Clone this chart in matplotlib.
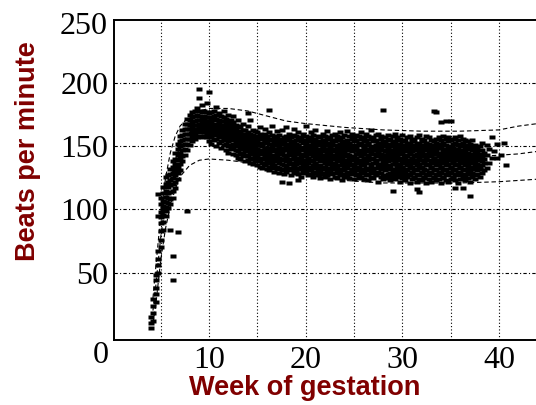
import matplotlib
matplotlib.use("Agg")
import matplotlib.pyplot as plt

# fetal heart rate readings (beats per minute), grouped by week of gestation
fhr = {
    4.0: [6, 10, 15],
    4.25: [12, 18, 24, 29],
    4.5: [27, 33, 38, 44, 48],
    4.75: [50, 56, 61, 67, 95, 112],
    5.0: [70, 76, 83, 89, 94, 98, 104, 109],
    5.25: [84, 90, 96, 100, 103, 107, 113, 118],
    5.5: [95, 99, 102, 106, 110, 115, 120, 126],
    5.75: [101, 105, 109, 113, 118, 122, 127],
    6.0: [104, 108, 114, 119, 123, 128, 132, 84],
    6.25: [109, 115, 120, 125, 129, 134, 138, 63, 44],
    6.5: [117, 122, 127, 131, 136, 140, 145],
    6.75: [124, 129, 134, 139, 143, 148, 152, 82],
    7.0: [131, 136, 141, 145, 150, 154, 158],
    7.25: [138, 142, 147, 151, 155, 159, 163],
    7.5: [143, 148, 152, 156, 160, 164, 168],
    7.75: [147, 152, 156, 160, 164, 168, 172, 99],
    8.0: [151, 156, 160, 164, 167, 171, 175],
    8.25: [154, 158, 162, 165, 169, 173, 177],
    8.5: [156, 160, 163, 167, 170, 174, 178],
    8.75: [157, 161, 164, 167, 171, 175, 180],
    9.0: [158, 162, 165, 168, 171, 174, 178, 188, 195],
    9.25: [157, 161, 164, 167, 170, 173, 177, 183],
    9.5: [158, 161, 165, 168, 171, 174, 178],
    9.75: [157, 160, 164, 167, 170, 173, 177, 184],
    10.0: [154, 158, 161, 165, 168, 170, 173, 176, 193],
    10.25: [152, 157, 160, 163, 166, 169, 172, 177],
    10.5: [155, 159, 162, 164, 167, 171, 174, 178],
    10.75: [150, 156, 160, 163, 166, 168, 172, 175, 181],
    11.0: [153, 157, 159, 162, 165, 169, 171, 176],
    11.25: [149, 154, 158, 161, 164, 167, 170, 174],
    11.5: [151, 155, 157, 160, 163, 166, 170, 173, 178],
    11.75: [147, 152, 156, 159, 162, 165, 168, 172],
    12.0: [145, 150, 154, 157, 160, 163, 166, 170, 175],
    12.25: [148, 151, 155, 158, 161, 164, 168, 171],
    12.5: [144, 149, 152, 156, 159, 162, 165, 169, 174],
    12.75: [143, 147, 151, 154, 157, 160, 164, 167],
    13.0: [141, 146, 150, 153, 156, 159, 162, 166, 171],
    13.25: [140, 144, 148, 152, 155, 158, 161, 165],
    13.5: [142, 145, 149, 151, 154, 157, 160, 163, 168],
    13.75: [138, 143, 147, 150, 153, 156, 159, 163],
    14.0: [139, 142, 146, 149, 152, 155, 158, 161, 166, 176],
    14.25: [137, 141, 145, 148, 151, 154, 157, 160, 171],
    14.5: [136, 140, 144, 147, 150, 153, 156, 159, 163],
    14.75: [138, 141, 143, 146, 149, 152, 155, 158, 162],
    15.0: [135, 139, 142, 145, 148, 151, 154, 157, 161],
    15.25: [134, 138, 141, 144, 147, 151, 153, 156, 160, 165],
    15.5: [133, 137, 140, 145, 146, 150, 152, 157, 159],
    15.75: [135, 136, 141, 143, 148, 149, 154, 155, 160, 164],
    16.0: [132, 137, 139, 144, 146, 149, 153, 156, 158],
    16.25: [131, 134, 140, 142, 145, 148, 152, 155, 161, 179],
    16.5: [133, 136, 138, 143, 147, 150, 151, 156, 159, 166],
    16.75: [130, 135, 139, 141, 146, 148, 152, 154, 158],
    17.0: [132, 134, 138, 142, 145, 147, 151, 155, 157, 162],
    17.25: [129, 133, 137, 141, 144, 149, 150, 153, 159],
    17.5: [131, 136, 139, 140, 145, 146, 152, 154, 156, 163, 122],
    17.75: [128, 132, 135, 140, 143, 147, 149, 153, 157],
    18.0: [130, 134, 138, 141, 142, 148, 150, 155, 158, 165],
    18.25: [131, 133, 136, 139, 144, 146, 151, 152, 156, 160, 121],
    18.5: [127, 132, 137, 140, 143, 145, 149, 154, 157],
    18.75: [129, 134, 135, 141, 142, 147, 150, 153, 159, 164],
    19.0: [130, 131, 136, 138, 144, 146, 148, 152, 155, 158],
    19.25: [128, 133, 137, 139, 141, 145, 150, 151, 156, 161, 123],
    19.5: [126, 132, 134, 140, 143, 147, 149, 154, 157],
    19.75: [129, 131, 136, 138, 142, 144, 148, 153, 155, 160],
    20.0: [130, 133, 135, 139, 143, 146, 150, 152, 158, 166],
    20.25: [127, 132, 137, 140, 141, 145, 149, 154, 156],
    20.5: [128, 131, 134, 138, 144, 147, 148, 151, 157, 161],
    20.75: [126, 130, 135, 139, 142, 145, 150, 153, 155, 159],
    21.0: [129, 133, 136, 137, 141, 146, 149, 152, 156, 163],
    21.25: [127, 131, 134, 140, 143, 144, 148, 151, 154, 158],
    21.5: [125, 130, 135, 138, 141, 145, 147, 153, 157],
    21.75: [128, 132, 133, 139, 142, 146, 149, 150, 155, 160],
    22.0: [126, 129, 134, 137, 140, 143, 148, 152, 154, 158],
    22.25: [127, 131, 136, 138, 141, 145, 146, 151, 156, 162],
    22.5: [124, 130, 133, 139, 142, 144, 149, 150, 153, 157],
    22.75: [128, 132, 135, 137, 140, 146, 147, 152, 155, 159],
    23.0: [126, 129, 134, 136, 141, 143, 148, 151, 154, 160],
    23.25: [125, 131, 133, 138, 142, 145, 147, 150, 156, 158],
    23.5: [127, 130, 135, 139, 140, 144, 149, 152, 155, 161],
    23.75: [123, 128, 132, 137, 141, 143, 146, 151, 153, 157],
    24.0: [126, 131, 134, 136, 139, 145, 148, 150, 154, 159],
    24.25: [127, 129, 133, 138, 142, 144, 147, 152, 155, 162],
    24.5: [125, 130, 135, 137, 140, 143, 149, 151, 153, 158],
    24.75: [128, 131, 132, 139, 141, 146, 148, 150, 156, 160],
    25.0: [124, 129, 134, 136, 140, 142, 147, 151, 154, 157],
    25.25: [127, 131, 133, 138, 141, 144, 148, 150, 155, 159],
    25.5: [125, 128, 134, 137, 139, 145, 146, 151, 153, 158],
    25.75: [126, 130, 132, 136, 142, 143, 147, 152, 156, 161],
    26.0: [124, 129, 135, 138, 140, 144, 149, 150, 154, 157],
    26.25: [127, 131, 133, 137, 141, 146, 147, 151, 155, 160],
    26.5: [123, 128, 132, 139, 142, 143, 148, 152, 153, 158],
    26.75: [126, 130, 134, 136, 140, 145, 146, 150, 156, 163],
    27.0: [125, 129, 131, 137, 141, 144, 147, 149, 154, 157],
    27.25: [127, 128, 133, 138, 139, 143, 148, 151, 155, 159],
    27.5: [122, 130, 134, 136, 142, 145, 146, 150, 153, 160],
    27.75: [126, 129, 132, 135, 140, 144, 149, 152, 156, 158],
    28.0: [124, 127, 133, 137, 139, 142, 147, 150, 154, 179],
    28.25: [125, 131, 134, 136, 141, 143, 146, 151, 153, 157],
    28.5: [126, 128, 132, 138, 140, 145, 148, 149, 155, 159],
    28.75: [123, 129, 133, 135, 139, 142, 146, 150, 152, 156],
    29.0: [125, 127, 131, 136, 141, 144, 147, 151, 154, 158, 115],
    29.25: [124, 130, 132, 137, 138, 143, 145, 149, 153, 160],
    29.5: [126, 128, 134, 135, 140, 142, 146, 150, 155, 157],
    29.75: [122, 129, 131, 136, 139, 144, 147, 148, 152, 156],
    30.0: [125, 127, 133, 134, 138, 141, 145, 149, 154, 159],
    30.25: [123, 130, 132, 137, 140, 143, 146, 150, 151, 155],
    30.5: [126, 128, 131, 135, 139, 142, 147, 148, 153, 157],
    30.75: [121, 127, 133, 136, 138, 144, 145, 149, 152, 158],
    31.0: [124, 129, 130, 134, 140, 141, 146, 150, 154, 156],
    31.25: [125, 126, 132, 137, 139, 143, 147, 148, 151, 155],
    31.5: [122, 128, 131, 135, 138, 142, 144, 149, 153, 157, 116],
    31.75: [124, 127, 133, 136, 140, 141, 146, 150, 152, 159, 114],
    32.0: [123, 129, 130, 134, 139, 143, 145, 148, 154, 156],
    32.25: [125, 126, 132, 137, 138, 142, 147, 149, 151, 155],
    32.5: [121, 128, 131, 135, 140, 141, 144, 150, 153, 158],
    32.75: [124, 127, 130, 136, 139, 143, 146, 148, 152, 157],
    33.0: [122, 129, 133, 134, 138, 142, 145, 149, 151, 155],
    33.25: [125, 126, 131, 137, 140, 141, 147, 150, 154, 178],
    33.5: [123, 128, 132, 135, 139, 144, 146, 148, 153, 156, 177],
    33.75: [124, 127, 130, 136, 138, 142, 145, 149, 151, 157],
    34.0: [121, 129, 133, 134, 140, 143, 144, 150, 152, 155, 169],
    34.25: [125, 126, 131, 137, 139, 141, 146, 148, 153, 158],
    34.5: [123, 128, 132, 135, 138, 142, 145, 147, 151, 156, 170],
    34.75: [122, 127, 130, 136, 140, 143, 144, 149, 154, 157],
    35.0: [124, 129, 133, 134, 139, 141, 146, 148, 150, 155, 170],
    35.25: [125, 126, 131, 137, 138, 142, 145, 149, 152, 156],
    35.5: [123, 128, 132, 135, 140, 143, 144, 147, 153, 157, 117],
    35.75: [121, 127, 130, 136, 139, 141, 146, 148, 151, 155],
    36.0: [124, 129, 133, 134, 138, 142, 145, 150, 152, 158],
    36.25: [126, 128, 131, 137, 140, 143, 144, 147, 153, 156, 117],
    36.5: [123, 127, 132, 135, 139, 141, 146, 149, 151, 155],
    36.75: [125, 130, 133, 136, 138, 142, 145, 148, 154],
    37.0: [122, 128, 131, 134, 140, 143, 144, 150, 152, 111],
    37.25: [126, 129, 132, 137, 139, 141, 147, 149, 155],
    37.5: [124, 127, 133, 135, 138, 142, 145, 151],
    37.75: [128, 131, 136, 140, 143, 146, 149],
    38.0: [126, 132, 134, 139, 141, 144, 150],
    38.25: [129, 135, 138, 142, 147, 153],
    38.5: [131, 137, 140, 145],
    38.75: [133, 143, 151],
    39.0: [137, 148],
    39.25: [141, 157],
    39.5: [146],
    39.75: [141, 152],
    40.25: [143],
    40.5: [153],
    40.75: [135],
}

# percentile curves (upper, mean, lower)
curve_weeks = [4.2, 4.5, 5, 5.5, 6, 6.5, 7, 8, 9, 10, 12, 14, 16, 18, 20,
               24, 28, 32, 36, 40, 42, 44]
curve_upper = [30, 55, 95, 125, 145, 158, 166, 174, 178, 180, 180, 178, 174,
               170, 168, 165, 163, 162, 162, 163, 166, 168]
curve_mean = [20, 40, 78, 105, 124, 139, 150, 161, 166, 167, 163, 159, 155,
              151, 149, 146, 144, 142, 141, 143, 144, 146]
curve_lower = [10, 25, 60, 85, 103, 116, 126, 135, 139, 140, 139, 137, 134,
               131, 128, 123, 121, 121, 121, 122, 123, 124]

grid_x = [5, 10, 15, 20, 25, 30, 35, 40]
grid_y = [50, 100, 150, 200]
xtick_vals = [10, 20, 30, 40]
ytick_vals = [50, 100, 150, 200]

dark_red = "#800000"
serif = "Liberation Serif"
# short wide dash, like the dots in the scanned chart
dash_marker = [(-1, -0.55), (1, -0.55), (1, 0.55), (-1, 0.55)]

fig = plt.figure(figsize=(5.36, 4.05), dpi=100)
ax = fig.add_axes([0.2127, 0.1605, 0.7873, 0.7901])

for x in grid_x:
    ax.axvline(x, color="black", lw=0.8, ls=(0, (1, 2)), zorder=1)
for y in grid_y:
    ax.axhline(y, color="black", lw=0.8, ls=(0, (3, 2, 1, 2)), zorder=1)

xs, ys = [], []
for w, vals in fhr.items():
    for v in vals:
        xs.append(w)
        ys.append(v)
ax.plot(xs, ys, ls="none", marker=dash_marker, ms=4.8, mec="none",
        color="black", zorder=3)

for c in (curve_upper, curve_mean, curve_lower):
    ax.plot(curve_weeks, c, color="black", lw=0.8, dashes=(4, 2.5), zorder=2)

ax.set_xlim(0.17, 43.83)
ax.set_ylim(-3.3, 250)
ax.spines["right"].set_visible(False)
for s in ("left", "bottom", "top"):
    ax.spines[s].set_linewidth(1.4)

ax.set_xticks(xtick_vals)
ax.set_xticklabels([str(v) for v in xtick_vals], family=serif, fontsize=23)
ax.set_yticks(ytick_vals)
ax.set_yticklabels([str(v) for v in ytick_vals], family=serif, fontsize=23)
ax.tick_params(length=0, pad=4)

# corner and top labels sit off the regular tick positions
fig.text(0.2015, 0.9346, "250", ha="right", va="center", family=serif, fontsize=23)
fig.text(0.1875, 0.121, "0", ha="center", va="center", family=serif, fontsize=23)

fig.text(0.569, 0.042, "Week of gestation", ha="center", va="center",
         family="Liberation Sans", weight="bold", fontsize=19.5, color=dark_red)
fig.text(0.052, 0.627, "Beats per minute", ha="center", va="center", rotation=90,
         family="Liberation Sans", weight="bold", fontsize=19.5, color=dark_red)

fig.savefig("out.png", dpi=100)
